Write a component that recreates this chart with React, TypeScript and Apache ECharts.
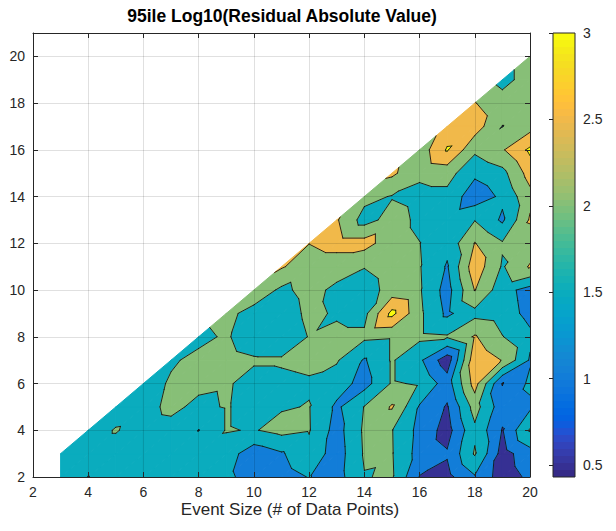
import React, { useEffect, useRef } from "react";
import * as echarts from "echarts";

// Grid values, one array per x column (x = 3..20), entries for y = 2..x
const z3 = [1.75, 1.8];
const z4 = [1.49, 1.8, 1.8];
const z5 = [1.75, 1.8, 2.03, 1.8];
const z6 = [1.8, 1.8, 1.8, 1.85, 1.8];
const z7 = [1.75, 1.8, 1.85, 2.1, 2.05, 1.95];
const z8 = [1.8, 1.8, 1.49, 1.9, 2.1, 2.1, 1.9];
const z9 = [1.6, 1.75, 2.03, 2.03, 2.05, 2.15, 2.05, 2.15];
const z10 = [1.3, 1.2, 1.97, 1.85, 1.85, 2.05, 1.75, 1.8, 2.35];
const z11 = [1.3, 1.45, 2.15, 1.96, 1.9, 2.05, 1.7, 1.75, 1.9, 2.55];
const z12 = [1.52, 1.85, 2.03, 2.02, 1.95, 2.1, 2.02, 2.1, 2.15, 2.2, 2.51];
const z13 = [1.3, 1.25, 1.3, 1.4, 1.75, 2.05, 2.1, 1.95, 1.9, 2.2, 2.7, 2.55];
const z14 = [1.98, 2.05, 2.08, 2.02, 1.3, 1.45, 2.1, 1.85, 1.75, 2.02, 2.7, 1.8, 2.15];
const z15 = [2.05, 2.03, 2.02, 2.55, 2.05, 2.05, 2.05, 3.15, 2.2, 2.25, 2.2, 2.2, 1.97, 2.6];
const z16 = [0.98, 1.3, 1.35, 1.45, 1.95, 1.6, 2.1, 2.1, 2.05, 2.03, 2.01, 1.9, 1.85, 2.1, 2.2];
const z17 = [0.85, 1.05, 0.8, 0.95, 1.25, 0.7, 2.05, 1.4, 1.3, 1.45, 1.65, 1.75, 1.85, 2.2, 3.05, 2.7];
const z18 = [1.45, 2.05, 1.9, 2.2, 2.7, 2.85, 2.55, 1.85, 2.52, 2.8, 2.52, 1.98, 1.2, 1.6, 2.1, 2.75, 2.52];
const z19 = [0.75, 0.8, 0.97, 1.2, 0.98, 2.48, 2.02, 1.75, 1.7, 1.95, 2.05, 1.42, 1.6, 1.85, 2.45, 1.99, 2.2, 1.85];
const z20 = [1.1, 1.3, 2.05, 1.4, 1.6, 1.45, 1.6, 1.35, 1.3, 2.55, 2.2, 2.56, 2.35, 2.7, 3.1, 2.3, 2.2, 2.2, 2.2];

const COLUMNS = [z3, z4, z5, z6, z7, z8, z9, z10, z11, z12, z13, z14, z15, z16, z17, z18, z19, z20];
const X_FIRST = 3;
const Y_FIRST = 2;

const LEVELS = [0.5, 1, 1.5, 2, 2.5, 3];
const CBAR_TICKS = [0.5, 1, 1.5, 2, 2.5, 3];
const CMIN = 0.43;
const CMAX = 3;

const TITLE = "95ile Log10(Residual Absolute Value)";
const XLABEL = "Event Size (# of Data Points)";

// parula colormap, 64 rows
const PARULA: number[][] = [
  [0.2081, 0.1663, 0.5292], [0.2116, 0.1898, 0.5777], [0.2123, 0.2138, 0.627], [0.2081, 0.2386, 0.6771],
  [0.1959, 0.2645, 0.7279], [0.1707, 0.2919, 0.7792], [0.1253, 0.3242, 0.8303], [0.0591, 0.3598, 0.8683],
  [0.0117, 0.3875, 0.882], [0.006, 0.4086, 0.8828], [0.0165, 0.4266, 0.8786], [0.0329, 0.443, 0.872],
  [0.0498, 0.4586, 0.8641], [0.0629, 0.4737, 0.8554], [0.0723, 0.4887, 0.8467], [0.0779, 0.504, 0.8384],
  [0.0793, 0.52, 0.8312], [0.0749, 0.5375, 0.8263], [0.0641, 0.557, 0.824], [0.0488, 0.5772, 0.8228],
  [0.0343, 0.5966, 0.8199], [0.0265, 0.6137, 0.8135], [0.0239, 0.6287, 0.8038], [0.0231, 0.6418, 0.7913],
  [0.0228, 0.6535, 0.7768], [0.0267, 0.6642, 0.7607], [0.0384, 0.6743, 0.7436], [0.059, 0.6838, 0.7254],
  [0.0843, 0.6928, 0.7062], [0.1133, 0.7015, 0.6859], [0.1453, 0.7098, 0.6646], [0.1801, 0.7177, 0.6424],
  [0.2178, 0.725, 0.6193], [0.2586, 0.7317, 0.5954], [0.3022, 0.7376, 0.5712], [0.3482, 0.7424, 0.5473],
  [0.3953, 0.7459, 0.5244], [0.442, 0.7481, 0.5033], [0.4871, 0.7491, 0.484], [0.53, 0.7491, 0.4661],
  [0.5709, 0.7485, 0.4494], [0.6099, 0.7473, 0.4337], [0.6473, 0.7456, 0.4188], [0.6834, 0.7435, 0.4044],
  [0.7184, 0.7411, 0.3905], [0.7525, 0.7384, 0.3768], [0.7858, 0.7356, 0.3633], [0.8185, 0.7327, 0.3498],
  [0.8507, 0.7299, 0.336], [0.8824, 0.7274, 0.3217], [0.9139, 0.7258, 0.3063], [0.945, 0.7261, 0.2886],
  [0.9739, 0.7314, 0.2666], [0.9938, 0.7455, 0.2403], [0.999, 0.7653, 0.2164], [0.9955, 0.7861, 0.1967],
  [0.988, 0.8066, 0.1794], [0.9789, 0.8271, 0.1633], [0.9697, 0.8481, 0.1475], [0.9626, 0.8705, 0.1309],
  [0.9589, 0.8949, 0.1132], [0.9598, 0.9218, 0.0948], [0.9661, 0.9514, 0.0755], [0.9763, 0.9831, 0.0538],
];

function rowColor(r: number[]) {
  return `rgb(${Math.round(r[0] * 255)},${Math.round(r[1] * 255)},${Math.round(r[2] * 255)})`;
}
function parula(v: number) {
  const t = (v - CMIN) / (CMAX - CMIN);
  const i = Math.max(0, Math.min(PARULA.length - 1, Math.floor(t * PARULA.length)));
  return rowColor(PARULA[i]);
}

function val(x: number, y: number) {
  let v = COLUMNS[x - X_FIRST][y - Y_FIRST];
  for (const L of LEVELS) if (v === L) v += 1e-6;
  return v;
}

function buildTriangles() {
  const tris: number[][] = [];
  const xLast = X_FIRST + COLUMNS.length - 1;
  for (let x = X_FIRST; x < xLast; x++) {
    for (let y = Y_FIRST; y <= x; y++) {
      tris.push([x, y, val(x, y), x + 1, y, val(x + 1, y), x + 1, y + 1, val(x + 1, y + 1)]);
      if (y + 1 <= x) tris.push([x, y, val(x, y), x + 1, y + 1, val(x + 1, y + 1), x, y + 1, val(x, y + 1)]);
    }
  }
  return tris;
}

type P = [number, number, number];
function clip(poly: P[], level: number, above: boolean): P[] {
  const out: P[] = [];
  const n = poly.length;
  for (let i = 0; i < n; i++) {
    const a = poly[i];
    const b = poly[(i + 1) % n];
    const ia = above ? a[2] >= level : a[2] <= level;
    const ib = above ? b[2] >= level : b[2] <= level;
    if (ia) out.push(a);
    if (ia !== ib) {
      const t = (level - a[2]) / (b[2] - a[2]);
      out.push([a[0] + t * (b[0] - a[0]), a[1] + t * (b[1] - a[1]), level]);
    }
  }
  return out;
}

function triPoints(api: any): P[] {
  const p: P[] = [];
  for (let k = 0; k < 3; k++) p.push([api.value(k * 3), api.value(k * 3 + 1), api.value(k * 3 + 2)]);
  return p;
}

function renderFill(params: any, api: any) {
  const tri = triPoints(api);
  const bounds = [-Infinity, ...LEVELS, Infinity];
  const children: any[] = [];
  for (let b = 0; b < bounds.length - 1; b++) {
    const lo = bounds[b];
    const hi = bounds[b + 1];
    let poly = tri;
    if (isFinite(lo)) poly = clip(poly, lo, true);
    if (poly.length < 3) continue;
    if (isFinite(hi)) poly = clip(poly, hi, false);
    if (poly.length < 3) continue;
    const color = parula(isFinite(lo) ? lo : CMIN);
    children.push({
      type: "polygon",
      shape: { points: poly.map((q) => api.coord([q[0], q[1]])) },
      style: { fill: color, stroke: color, lineWidth: 1, lineJoin: "round" },
    });
  }
  return { type: "group", children };
}

function renderLines(params: any, api: any) {
  const tri = triPoints(api);
  const children: any[] = [];
  for (const L of LEVELS) {
    const pts: number[][] = [];
    for (let i = 0; i < 3; i++) {
      const a = tri[i];
      const b = tri[(i + 1) % 3];
      if ((a[2] < L) !== (b[2] < L)) {
        const t = (L - a[2]) / (b[2] - a[2]);
        pts.push(api.coord([a[0] + t * (b[0] - a[0]), a[1] + t * (b[1] - a[1])]));
      }
    }
    if (pts.length === 2) {
      children.push({
        type: "line",
        shape: { x1: pts[0][0], y1: pts[0][1], x2: pts[1][0], y2: pts[1][1] },
        style: { stroke: "#141414", lineWidth: 0.9, lineCap: "round" },
      });
    }
  }
  return { type: "group", children };
}

function renderColorbar(params: any, api: any) {
  const tl = api.coord([api.value(0), api.value(3)]);
  const br = api.coord([api.value(2), api.value(1)]);
  const stops: any[] = [];
  PARULA.forEach((r, i) => {
    stops.push({ offset: i / PARULA.length, color: rowColor(r) });
    stops.push({ offset: (i + 1) / PARULA.length, color: rowColor(r) });
  });
  return {
    type: "rect",
    shape: { x: tl[0], y: tl[1], width: br[0] - tl[0], height: br[1] - tl[1] },
    style: {
      fill: { type: "linear", x: 0, y: 1, x2: 0, y2: 0, colorStops: stops },
      stroke: "#262626",
      lineWidth: 1,
    },
  };
}

const FONT = '"Liberation Sans", Arial, Helvetica, sans-serif';
const AX = "#262626";

export default function App() {
  const ref = useRef<HTMLDivElement>(null);
  useEffect(() => {
    const chart = echarts.init(ref.current!, null, { renderer: "svg" });
    const tickCommon = { show: true, inside: true, length: 5, lineStyle: { color: AX, width: 1 } };
    const lineCommon = { show: true, onZero: false, lineStyle: { color: AX, width: 1 } };
    const labelCommon = { color: AX, fontSize: 14, fontFamily: FONT };
    const option: any = {
      animation: false,
      backgroundColor: "#ffffff",
      grid: [
        { left: 33, top: 33, width: 497, height: 444, containLabel: false },
        { left: 553, top: 33, width: 22, height: 444, containLabel: false },
      ],
      xAxis: [
        {
          type: "value", gridIndex: 0, position: "bottom", min: 2, max: 20, interval: 2, z: 5,
          axisLine: lineCommon, axisTick: tickCommon,
          axisLabel: { ...labelCommon, margin: 8 },
          splitLine: { show: true, lineStyle: { color: "rgba(0,0,0,0.12)", width: 1 } },
        },
        {
          type: "value", gridIndex: 0, position: "top", min: 2, max: 20, interval: 2, z: 5,
          axisLine: lineCommon, axisTick: tickCommon, axisLabel: { show: false }, splitLine: { show: false },
        },
        { type: "value", gridIndex: 1, min: 0, max: 1, show: false },
      ],
      yAxis: [
        {
          type: "value", gridIndex: 0, position: "left", min: 2, max: 21, interval: 2, z: 5,
          axisLine: lineCommon, axisTick: tickCommon,
          axisLabel: { ...labelCommon, margin: 8, showMaxLabel: false, formatter: (v: number) => (v > 20 ? "" : String(v)) },
          splitLine: { show: true, lineStyle: { color: "rgba(0,0,0,0.12)", width: 1 } },
        },
        {
          type: "value", gridIndex: 0, position: "right", min: 2, max: 21, interval: 2, z: 5,
          axisLine: lineCommon, axisTick: tickCommon, axisLabel: { show: false }, splitLine: { show: false },
        },
        {
          type: "value", gridIndex: 1, position: "right", min: CMIN, max: CMAX, z: 5,
          axisLine: { show: false },
          axisTick: { show: true, inside: true, length: 4, lineStyle: { color: AX }, customValues: CBAR_TICKS },
          axisLabel: { ...labelCommon, margin: 8, customValues: CBAR_TICKS, formatter: (v: number) => String(v) },
          splitLine: { show: false },
        },
      ],
      series: [
        {
          type: "custom", coordinateSystem: "cartesian2d", xAxisIndex: 0, yAxisIndex: 0,
          data: buildTriangles(), renderItem: renderFill, z: 1, silent: true, clip: true,
          encode: { x: 0, y: 1 },
        },
        {
          type: "custom", coordinateSystem: "cartesian2d", xAxisIndex: 0, yAxisIndex: 0,
          data: buildTriangles(), renderItem: renderLines, z: 3, silent: true, clip: true,
          encode: { x: 0, y: 1 },
        },
        {
          type: "custom", coordinateSystem: "cartesian2d", xAxisIndex: 2, yAxisIndex: 2,
          data: [[0, CMIN, 1, CMAX]], renderItem: renderColorbar, z: 1, silent: true,
          encode: { x: 0, y: 1 },
        },
      ],
      graphic: [
        {
          type: "text", x: 282, y: 16, z: 10,
          style: { text: TITLE, fill: "#000", font: `bold 17.5px ${FONT}`, align: "center", verticalAlign: "middle", textAlign: "center", textVerticalAlign: "middle" },
        },
        {
          type: "text", x: 290, y: 509, z: 10,
          style: { text: XLABEL, fill: AX, font: `17px ${FONT}`, align: "center", verticalAlign: "middle", textAlign: "center", textVerticalAlign: "middle" },
        },
      ],
    };
    chart.setOption(option);
    return () => chart.dispose();
  }, []);
  return <div ref={ref} style={{ position: "fixed", left: 0, top: 0, width: 616, height: 531 }} />;
}
